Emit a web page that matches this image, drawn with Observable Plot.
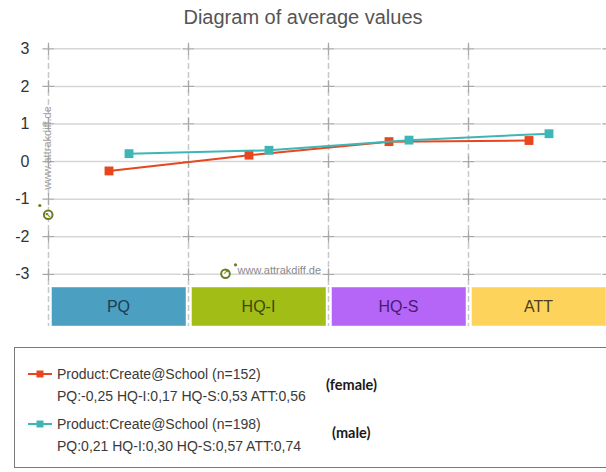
<!DOCTYPE html>
<html>
<head>
<meta charset="utf-8">
<script src="https://cdn.jsdelivr.net/npm/d3@7"></script>
<script src="https://cdn.jsdelivr.net/npm/@observablehq/plot@0.6"></script>
<style>
  html, body { margin: 0; padding: 0; background: #fff; overflow: hidden; }
  body { font-family: "Liberation Sans", Arial, sans-serif; }
  #wrap { position: relative; width: 606px; height: 472px; overflow: hidden; }
  #title { position: absolute; left: 0; top: 0; width: 606px; height: 35px; line-height: 35px;
           text-align: center; font-size: 20px; color: #555; }
  #main { position: absolute; left: 0; top: 35px; }
  #strip { position: absolute; left: 0; top: 286.5px; }
  #legend { position: absolute; left: 14px; top: 347px; width: 640px; height: 121px;
            border: 1.5px solid #7a7a7a; box-sizing: border-box; }
  .lg { position: absolute; white-space: nowrap; font-size: 14px; color: #3a3a3a; line-height: 16px; }
  .tag { position: absolute; white-space: nowrap; font-family: Lato, "Noto Sans", sans-serif;
         font-weight: bold; font-size: 14.5px; color: #1a1a1a; line-height: 16px; }
  .mk { position: absolute; }
</style>
</head>
<body>
<div id="wrap">
  <div id="title"></div>
  <div id="main"></div>
  <div id="strip"></div>
  <div id="legend"></div>
</div>
<script>
// ---- data ----
const titleText = "Diagram of average values";
const categories = ["PQ", "HQ-I", "HQ-S", "ATT"];
const categoryColors = ["#4b9fc0", "#a2bd15", "#b566f7", "#fdd35b"];
const categoryTextColors = ["#1c3d52", "#3b4808", "#4a1a72", "#4d3f1c"];
const yTicks = [-3, -2, -1, 0, 1, 2, 3];
const seriesNames = ["Product:Create@School (n=152)", "Product:Create@School (n=198)"];
const seriesTags = ["(female)", "(male)"];
const seriesColors = ["#e8461e", "#3fb6b6"];
const femaleValues = [-0.25, 0.17, 0.53, 0.56];
const maleValues = [0.21, 0.30, 0.57, 0.74];
const watermark = "www.attrakdiff.de";

// ---- derived tables ----
const bands = categories.map((c, i) => ({c, i}));
const boundaries = d3.range(categories.length + 1);
const gridSegs = d3.cross(bands, yTicks).map(([b, t]) => ({i: b.i, t}));
const crosses = d3.cross(boundaries, yTicks).map(([b, t]) => ({b, t}));
const female = categories.map((c, i) => ({i: i + 0.5, v: femaleValues[i]}));
const male = categories.map((c, i) => ({i: i + 0.5, v: maleValues[i]}));
const olive = "#6b7d23";

document.getElementById("title").textContent = titleText;

const xScale = {domain: [0, categories.length], range: [48, 608], axis: null};
const gridDash = {stroke: "#c8c8c8", strokeWidth: 1.5, strokeDasharray: "6,3"};

const main = Plot.plot({
  width: 606, height: 252,
  marginTop: 10, marginBottom: 0, marginLeft: 48, marginRight: 0,
  style: {fontFamily: "'Liberation Sans', Arial, sans-serif", fontSize: "16px", color: "#333", background: "transparent", overflow: "visible"},
  x: xScale,
  y: {domain: [-3, 3], range: [238.8, 13.3], ticks: yTicks, tickSize: 0, tickPadding: 19, tickFormat: d => String(d), label: null},
  color: {type: "identity"},
  marks: [
    Plot.ruleY(gridSegs, {y: "t", x1: "i", x2: d => d.i + 1, insetLeft: 7, insetRight: 7, stroke: "#d6d6d6", strokeWidth: 1.5}),
    Plot.ruleX(boundaries, {x: d => d, ...gridDash}),
    Plot.dot(crosses, {x: "b", y: "t", symbol: "plus", r: 4, stroke: "#a8a8a8", strokeWidth: 1.2}),
    // watermarks
    Plot.text([watermark], {text: d => d, frameAnchor: "left", textAnchor: "middle", rotate: -90, dx: -1.5, dy: -18.5, fontSize: 11, fill: "#a0a0a0"}),
    Plot.dot([watermark], {frameAnchor: "left", dx: -0.3, dy: 48.3, r: 4.3, stroke: olive, strokeWidth: 2, fill: "white"}),
    Plot.dot([watermark], {frameAnchor: "left", dx: -8.7, dy: 39, r: 1.6, fill: olive}),
    Plot.text([watermark], {text: () => "↗", frameAnchor: "left", textAnchor: "middle", rotate: -90, dx: -0.3, dy: 48.3, fontSize: 7, fontWeight: "bold", fill: olive}),
    Plot.text([watermark], {text: d => d, frameAnchor: "bottom-left", textAnchor: "start", dx: 189, dy: -13.5, fontSize: 11, fill: "#8a8a8a"}),
    Plot.dot([watermark], {frameAnchor: "bottom-left", dx: 177, dy: -13.7, r: 4.3, stroke: olive, strokeWidth: 2, fill: "white"}),
    Plot.dot([watermark], {frameAnchor: "bottom-left", dx: 187, dy: -22.7, r: 1.6, fill: olive}),
    Plot.text([watermark], {text: () => "↗", frameAnchor: "bottom-left", textAnchor: "middle", dx: 177, dy: -13.7, fontSize: 7, fontWeight: "bold", fill: olive}),
    // series
    Plot.line(female, {x: "i", y: "v", dx: -9.5, stroke: seriesColors[0], strokeWidth: 2}),
    Plot.dot(female, {x: "i", y: "v", dx: -9.5, symbol: "square", r: 5, fill: seriesColors[0]}),
    Plot.line(male, {x: "i", y: "v", dx: 10.5, stroke: seriesColors[1], strokeWidth: 2}),
    Plot.dot(male, {x: "i", y: "v", dx: 10.5, symbol: "square", r: 5, fill: seriesColors[1]})
  ]
});
document.getElementById("main").appendChild(main);

const strip = Plot.plot({
  width: 606, height: 39,
  marginTop: 0, marginBottom: 0, marginLeft: 48, marginRight: 0,
  style: {fontFamily: "'Liberation Sans', Arial, sans-serif", background: "transparent", overflow: "visible"},
  x: xScale,
  color: {type: "identity"},
  marks: [
    Plot.ruleX(boundaries, {x: d => d, ...gridDash}),
    Plot.rect(bands, {x1: "i", x2: d => d.i + 1, insetLeft: 3.5, insetRight: 2, fill: d => categoryColors[d.i], stroke: "rgba(255,255,255,0.45)", strokeWidth: 1}),
    Plot.text(bands, {x: d => d.i + 0.5, text: "c", frameAnchor: "middle", fill: d => categoryTextColors[d.i], fontSize: 16})
  ]
});
document.getElementById("strip").appendChild(strip);

// ---- legend ----
const legend = document.getElementById("legend");
const seriesValues = [femaleValues, maleValues];
const rowTops = [26, 76];        // center of first text line, relative to box
const tagOffsets = [[311, 37], [317, 85]];
const fmt = v => v.toFixed(2).replace(".", ",");
seriesNames.forEach((name, k) => {
  const cy = rowTops[k];
  const svgNS = "http://www.w3.org/2000/svg";
  const svg = document.createElementNS(svgNS, "svg");
  svg.setAttribute("width", 26); svg.setAttribute("height", 10);
  svg.setAttribute("class", "mk");
  svg.style.left = "13px"; svg.style.top = (cy - 5) + "px";
  const ln = document.createElementNS(svgNS, "line");
  ln.setAttribute("x1", 0); ln.setAttribute("x2", 24); ln.setAttribute("y1", 5); ln.setAttribute("y2", 5);
  ln.setAttribute("stroke", seriesColors[k]); ln.setAttribute("stroke-width", 2);
  const sq = document.createElementNS(svgNS, "rect");
  sq.setAttribute("x", 8.5); sq.setAttribute("y", 1.5); sq.setAttribute("width", 7); sq.setAttribute("height", 7);
  sq.setAttribute("fill", seriesColors[k]);
  svg.appendChild(ln); svg.appendChild(sq);
  legend.appendChild(svg);

  const t1 = document.createElement("div");
  t1.className = "lg"; t1.textContent = name;
  t1.style.left = "42px"; t1.style.top = (cy - 8) + "px";
  legend.appendChild(t1);

  const t2 = document.createElement("div");
  t2.className = "lg";
  t2.textContent = categories.map((c, i) => c + ":" + fmt(seriesValues[k][i])).join(" ");
  t2.style.left = "42px"; t2.style.top = (cy + 14) + "px";
  legend.appendChild(t2);

  const tg = document.createElement("div");
  tg.className = "tag"; tg.textContent = seriesTags[k];
  tg.style.left = tagOffsets[k][0] + "px"; tg.style.top = (tagOffsets[k][1] - 8) + "px";
  legend.appendChild(tg);
});
</script>
</body>
</html>
